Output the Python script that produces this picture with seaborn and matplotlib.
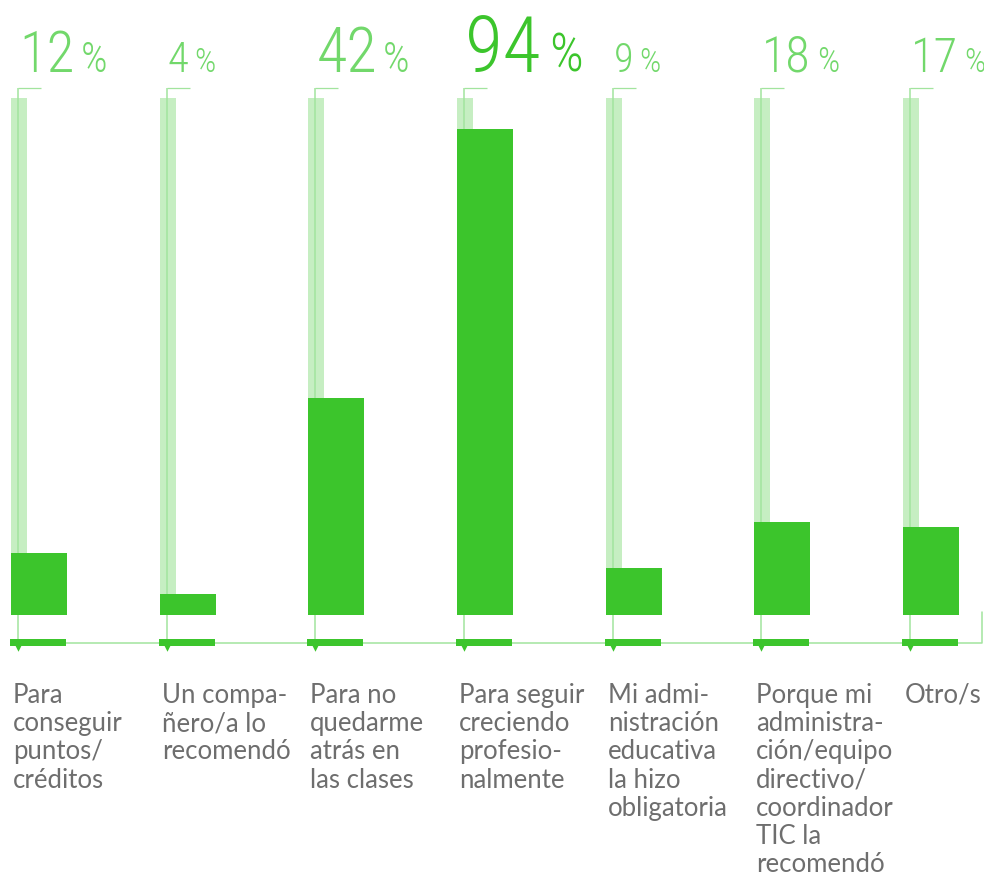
import numpy as np
import pandas as pd
import matplotlib
matplotlib.use("Agg")
import matplotlib.pyplot as plt
from matplotlib import font_manager as fm
import seaborn as sns

# ---------------- data ----------------
categories = [
    "Para\nconseguir\npuntos/\ncréditos",
    "Un compa-\nñero/a lo\nrecomendó",
    "Para no\nquedarme\natrás en\nlas clases",
    "Para seguir\ncreciendo\nprofesio-\nnalmente",
    "Mi admi-\nnistración\neducativa\nla hizo\nobligatoria",
    "Porque mi\nadministra-\nción/equipo\ndirectivo/\ncoordinador\nTIC la\nrecomendó",
    "Otro/s",
]
values = [12, 4, 42, 94, 9, 18, 17]
pct_labels = ["12", "4", "42", "94", "9", "18", "17"]
track_max = 100

# ---------------- style ----------------
BAR = "#3cc52c"
TRACK = "#c6eec2"
LINE = "#a2e49e"
PCT = "#72d86b"
PCT_TOP = "#3cc52c"
GREY = "#6e6e6e"
digit_sizes = [41, 31, 45, 56, 29, 36, 35]
pct_sign_sizes = [30, 24, 30, 38, 24, 25, 24]

names = {f.name for f in fm.fontManager.ttflist}
num_font = next((f for f in ["Roboto Condensed", "Liberation Sans Narrow", "DejaVu Sans"] if f in names), "DejaVu Sans")
lab_font = next((f for f in ["Source Sans Pro", "Lato", "Open Sans", "Roboto"] if f in names), "DejaVu Sans")

sns.set_theme(style="white")
plt.rcParams["font.family"] = [lab_font, "DejaVu Sans"]

W, H = 984, 877
fig = plt.figure(figsize=(W / 100, H / 100), dpi=100)
ax = fig.add_axes([0, 0, 1, 1])

# pixel scales
px_y = 1 / 5.17          # value units per pixel
px_x = 1 / 148.67        # category units per pixel
base_px, x0_px = 615, 39

df = pd.DataFrame({"cat": categories, "val": values})
bw = 56 * px_x
sns.barplot(data=df, x="cat", y="val", ax=ax, color=BAR, width=bw,
            saturation=1, errorbar=None, zorder=3, linewidth=0)

ax.set_ylim(-(H - base_px) * px_y, base_px * px_y)
ax.set_xlim(-x0_px * px_x, (W - x0_px) * px_x)

xs = np.arange(len(categories))
left = xs - bw / 2
line_x = left + 7 * px_x
top_v = 101.9
base_v = -5.4
right_x = (W - 2 - x0_px) * px_x

# background tracks
ax.bar(left, [track_max] * len(xs), width=16 * px_x, align="edge",
       color=TRACK, zorder=1, linewidth=0)

# vertical guide lines and top ticks
for lx in line_x:
    ax.plot([lx, lx], [base_v, top_v], color=LINE, lw=1.1, zorder=2,
            solid_capstyle="butt")
    ax.plot([lx, lx + 23 * px_x], [top_v, top_v], color=LINE, lw=0.9,
            zorder=2, solid_capstyle="butt")

# baseline with right end hook
ax.plot([left[0], right_x, right_x], [base_v, base_v, 0.6],
        color=LINE, lw=1.1, zorder=2)

# small base bars and triangles
ax.bar(left - 1 * px_x, [7 * px_y] * len(xs), bottom=base_v - 3.5 * px_y,
       width=bw, align="edge", color=BAR, zorder=4, linewidth=0)
ax.scatter(line_x, [base_v - 5.5 * px_y] * len(xs), marker="v", s=22,
           color=BAR, zorder=4, linewidths=0)

# percentage labels
fig.canvas.draw()
renderer = fig.canvas.get_renderer()
inv = ax.transData.inverted()
pct_v = (base_px - 72) * px_y
for i, (lab, ds, ps) in enumerate(zip(pct_labels, digit_sizes, pct_sign_sizes)):
    col = PCT_TOP if values[i] == max(values) else PCT
    t = ax.text(line_x[i] + 1 * px_x, pct_v, lab, fontsize=ds, color=col,
                family=num_font, fontweight="light", ha="left",
                va="baseline", zorder=5)
    bb = t.get_window_extent(renderer)
    xr = inv.transform((bb.x1, bb.y0))[0]
    ax.text(xr + (6 if ds < 50 else 9) * px_x, pct_v, "%", fontsize=ps,
            color=col, family=num_font, fontweight="light", ha="left",
            va="baseline", zorder=5)

# category labels
for i, c in enumerate(categories):
    ax.text(left[i] + 2 * px_x, (base_px - 683) * px_y, c, fontsize=18.5,
            color=GREY, ha="left", va="top", linespacing=1.16,
            fontweight="normal", zorder=5)

ax.axis("off")
fig.savefig("out.png", dpi=100, facecolor="white")
